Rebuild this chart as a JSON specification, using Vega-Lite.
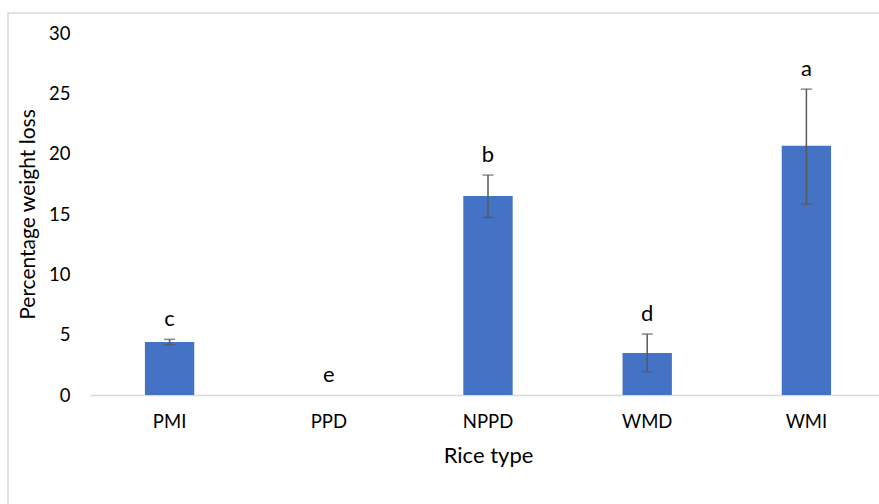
{
  "$schema": "https://vega.github.io/schema/vega-lite/v6.json",
  "autosize": "none",
  "padding": {"left": 8, "top": 13, "right": 0, "bottom": 0},
  "width": 880,
  "height": 495,
  "background": "white",
  "config": {
    "font": "Lato",
    "view": {"stroke": "#d9d9d9", "strokeWidth": 1.5},
    "axis": {"grid": false, "ticks": false, "labelColor": "#000000", "titleColor": "#000000", "labelFont": "Lato", "titleFont": "Lato", "titleFontWeight": "normal"}
  },
  "data": {
    "values": [
      {"type": "PMI", "value": 4.39, "lo": 4.17, "hi": 4.61, "letter": "c"},
      {"type": "PPD", "value": 0, "lo": 0, "hi": 0, "letter": "e"},
      {"type": "NPPD", "value": 16.5, "lo": 14.72, "hi": 18.23, "letter": "b"},
      {"type": "WMD", "value": 3.48, "lo": 1.93, "hi": 5.05, "letter": "d"},
      {"type": "WMI", "value": 20.65, "lo": 15.8, "hi": 25.35, "letter": "a"}
    ]
  },
  "encoding": {
    "x": {
      "field": "type", "type": "nominal", "sort": null,
      "scale": {"range": [82, 878], "paddingInner": 0.69, "paddingOuter": 0.345},
      "axis": {
        "title": "Rice type", "labelAngle": 0, "labelFontSize": 18.5, "titleFontSize": 22,
        "offset": -113, "labelPadding": 17, "titlePadding": 15,
        "domainColor": "#d9d9d9", "domainWidth": 1.5
      }
    }
  },
  "layer": [
    {
      "mark": {"type": "bar", "color": "#4472C4"},
      "encoding": {
        "y": {
          "field": "value", "type": "quantitative",
          "scale": {"domain": [0, 30], "range": [382, 20], "nice": false},
          "axis": {
            "title": "Percentage weight loss", "values": [0, 5, 10, 15, 20, 25, 30],
            "labelFontSize": 18.5, "titleFontSize": 21, "domain": false,
            "offset": -62, "labelPadding": 0, "titlePadding": 10
          }
        }
      }
    },
    {
      "transform": [{"filter": "datum.hi > 0"}],
      "mark": {"type": "rule", "color": "#595959", "strokeWidth": 1.5},
      "encoding": {"y": {"field": "lo", "type": "quantitative"}, "y2": {"field": "hi"}}
    },
    {
      "transform": [{"filter": "datum.hi > 0"}],
      "mark": {"type": "tick", "color": "#595959", "size": 11, "thickness": 1.5},
      "encoding": {"y": {"field": "lo", "type": "quantitative"}}
    },
    {
      "transform": [{"filter": "datum.hi > 0"}],
      "mark": {"type": "tick", "color": "#595959", "size": 11, "thickness": 1.5},
      "encoding": {"y": {"field": "hi", "type": "quantitative"}}
    },
    {
      "mark": {"type": "text", "fontSize": 22, "baseline": "middle", "dy": -20, "color": "#000000"},
      "encoding": {"y": {"field": "hi", "type": "quantitative"}, "text": {"field": "letter"}}
    }
  ]
}
